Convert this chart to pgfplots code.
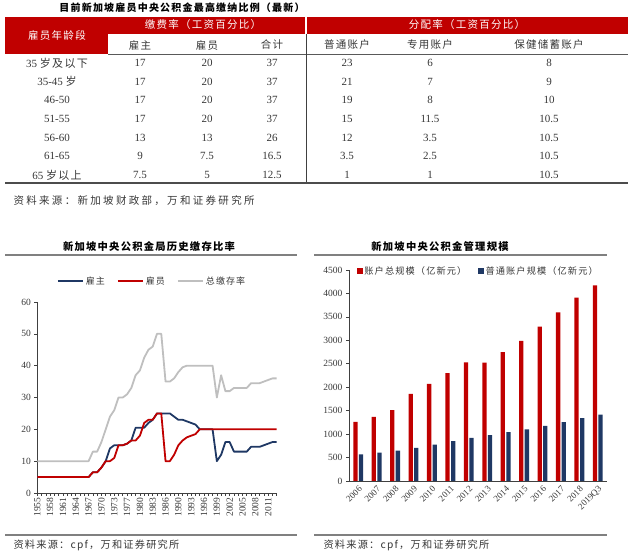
\documentclass[border=0pt]{standalone}
\usepackage{fontspec}
\setmainfont{Liberation Serif}
\newfontfamily\cjk{Noto Sans CJK SC}[LetterSpace=12]
\usepackage{pgfplots}
\usepackage{pgfplotstable}
\pgfplotsset{compat=1.18}
\definecolor{cred}{RGB}{192,0,0}
\definecolor{cblue}{RGB}{31,56,100}
\definecolor{cgray}{RGB}{191,191,191}
\definecolor{txt}{RGB}{55,55,55}
\definecolor{sepc}{RGB}{128,128,128}
\newcommand\zh[1]{{\cjk #1}}

\pgfplotstableread{
i emp ee tot
0 5 5 10
1 5 5 10
2 5 5 10
3 5 5 10
4 5 5 10
5 5 5 10
6 5 5 10
7 5 5 10
8 5 5 10
9 5 5 10
10 5 5 10
11 5 5 10
12 5 5 10
13 6.5 6.5 13
14 6.5 6.5 13
15 8 8 16
16 10 10 20
17 14 10 24
18 15 11 26
19 15 15 30
20 15 15 30
21 15.5 15.5 31
22 16.5 16.5 33
23 20.5 16.5 37
24 20.5 18 38.5
25 20.5 22 42.5
26 22 23 45
27 23 23 46
28 25 25 50
29 25 25 50
30 25 10 35
31 25 10 35
32 24 12 36
33 23 15 38
34 23 16.5 39.5
35 22.5 17.5 40
36 22 18 40
37 21.5 18.5 40
38 20 20 40
39 20 20 40
40 20 20 40
41 20 20 40
42 10 20 30
43 12 20 37
44 16 20 32
45 16 20 32
46 13 20 33
47 13 20 33
48 13 20 33
49 13 20 33
50 14.5 20 34.5
51 14.5 20 34.5
52 14.5 20 34.5
53 15 20 35
54 15.5 20 35.5
55 16 20 36
56 16 20 36
}\ratedata

\pgfplotstableread{
k total ordinary
0 1260 570
1 1367 605
2 1510 650
3 1858 705
4 2072 775
5 2300 850
6 2528 920
7 2525 980
8 2748 1040
9 2990 1100
10 3290 1175
11 3596 1255
12 3909 1340
13 4172 1415
}\sizedata

\begin{document}
\begin{tikzpicture}
\path[use as bounding box] (0pt,0pt) rectangle (640pt,559pt);
\begin{scope}[x=1pt,y=1pt]
% ---------------- table ----------------
\node[font=\cjk\bfseries\fontsize{10}{12}\selectfont, text=black] at (182,551) {目前新加坡雇员中央公积金最高缴纳比例（最新）};
\fill[cred] (5,542.3) rectangle (628,525);
\fill[cred] (5,525) rectangle (108,505);
\draw[white, line width=1.5pt] (306,542.3) -- (306,525);
\draw[black!65, line width=0.8pt] (108,505) -- (628,505);
\draw[black!75, line width=0.9pt] (306,525) -- (306,376);
\draw[black!70, line width=1.1pt] (5,376) -- (628,376);

\begin{scope}[every node/.style={font=\cjk\fontsize{10.5}{12}\selectfont}]
\node[text=white] at (57,524) {雇员年龄段};
\node[text=white] at (203,534) {缴费率（工资百分比）};
\node[text=white] at (467,534) {分配率（工资百分比）};
\node[text=txt] at (140,514) {雇主};
\node[text=txt] at (207,514) {雇员};
\node[text=txt] at (272,514) {合计};
\node[text=txt] at (347,514) {普通账户};
\node[text=txt] at (430,514) {专用账户};
\node[text=txt] at (549,514) {保健储蓄账户};
\end{scope}

\begin{scope}[every node/.style={font=\fontsize{11}{12}\selectfont, text=txt}]
\node at (57,496) {35 \zh{岁及以下}};
\node at (57,477.3) {35-45 \zh{岁}};
\node at (57,458.7) {46-50};
\node at (57,440) {51-55};
\node at (57,421.3) {56-60};
\node at (57,402.7) {61-65};
\node at (57,384) {65 \zh{岁以上}};
\foreach \y/\a/\b/\c/\d/\e/\f in {
 496/17/20/37/23/6/8,
 477.3/17/20/37/21/7/9,
 458.7/17/20/37/19/8/10,
 440/17/20/37/15/11.5/10.5,
 421.3/13/13/26/12/3.5/10.5,
 402.7/9/7.5/16.5/3.5/2.5/10.5,
 384/7.5/5/12.5/1/1/10.5}{
 \node at (140,\y) {\a};
 \node at (207,\y) {\b};
 \node at (272,\y) {\c};
 \node at (347,\y) {\d};
 \node at (430,\y) {\e};
 \node at (549,\y) {\f};
}
\end{scope}
\node[anchor=west, text=txt, font=\cjk\addfontfeature{LetterSpace=22}\fontsize{10.5}{12}\selectfont] at (10,358) {资料来源：新加坡财政部，万和证券研究所};

% ---------------- frames of the two charts ----------------
\node[font=\cjk\bfseries\fontsize{10.3}{12}\selectfont] at (149,312.3) {新加坡中央公积金局历史缴存比率};
\node[font=\cjk\bfseries\fontsize{10.3}{12}\selectfont] at (440,312.3) {新加坡中央公积金管理规模};
\draw[sepc, line width=1.5pt] (5,304) -- (297,304);
\draw[sepc, line width=1.5pt] (314,304) -- (607,304);
\draw[sepc, line width=1.5pt] (5,24) -- (297,24);
\draw[sepc, line width=1.5pt] (314,24) -- (607,24);
\node[anchor=west, text=txt, font=\cjk\fontsize{10.2}{12}\selectfont] at (10,14) {资料来源：cpf，万和证券研究所};
\node[anchor=west, text=txt, font=\cjk\fontsize{10.2}{12}\selectfont] at (320,14) {资料来源：cpf，万和证券研究所};
\end{scope}

% ---------------- left chart ----------------
\begin{axis}[
  at={(37.3pt,66pt)}, anchor=south west, scale only axis,
  width=239.4pt, height=191pt,
  xmin=0, xmax=56, ymin=0, ymax=60,
  axis x line*=bottom, axis y line*=left,
  axis line style={draw=black!75, line width=0.8pt},
  xtick={0,3,...,54},
  xticklabels={1955,1958,1961,1964,1967,1970,1973,1977,1980,1983,1986,1990,1993,1996,1999,2002,2005,2008,2011},
  minor xtick={0,1,...,56},
  ytick={0,10,...,60},
  tick align=outside, major tick length=3pt, minor tick length=3pt,
  every tick/.style={draw=black!75, line width=0.6pt},
  /pgf/number format/assume math mode=true,
  x tick label style={rotate=90, anchor=east, font=\fontsize{9.5}{10}\selectfont, text=txt, inner sep=1.5pt},
  y tick label style={font=\fontsize{9.5}{10}\selectfont, text=txt},
  legend columns=3,
  legend style={at={(0.479,1.11)}, anchor=center, draw=none, fill=none,
    font=\cjk\fontsize{9}{10}\selectfont, text=txt,
    /tikz/every even column/.append style={column sep=10pt}},
  legend image code/.code={\draw[#1, line width=2pt] (0pt,0pt) -- (25pt,0pt);},
]
\addplot[cblue, line width=1.8pt, line join=round] table[x=i, y=emp]{\ratedata};
\addlegendentry{雇主}
\addplot[cred, line width=1.8pt, line join=round] table[x=i, y=ee]{\ratedata};
\addlegendentry{雇员}
\addplot[cgray, line width=1.8pt, line join=round] table[x=i, y=tot]{\ratedata};
\addlegendentry{总缴存率}
\end{axis}

% ---------------- right chart ----------------
\begin{axis}[
  at={(349pt,78pt)}, anchor=south west, scale only axis,
  width=258pt, height=211pt,
  xmin=-0.5, xmax=13.5, ymin=0, ymax=4500,
  axis x line*=bottom, axis y line*=left,
  axis line style={draw=black!75, line width=0.8pt},
  xtick={0,...,13},
  xticklabels={2006,2007,2008,2009,2010,2011,2012,2013,2014,2015,2016,2017,2018,2019Q3},
  minor xtick={-0.5,0.5,...,13.5},
  ytick={0,500,...,4500},
  tick align=outside, major tick length=3pt, minor tick length=3pt,
  xtick style={draw=none},
  minor tick style={draw=black!75, line width=0.6pt},
  ytick style={draw=black!75, line width=0.6pt},
  scaled y ticks=false,
  /pgf/number format/1000 sep={},
  /pgf/number format/assume math mode=true,
  x tick label style={rotate=45, anchor=north east, font=\fontsize{9}{10}\selectfont, text=txt, inner sep=0.8pt},
  y tick label style={font=\fontsize{9.5}{10}\selectfont, text=txt},
  legend columns=2,
  legend style={at={(0.502,0.995)}, anchor=center, draw=none, fill=none,
    font=\cjk\fontsize{9.2}{10}\selectfont, text=txt,
    /tikz/every even column/.append style={column sep=10pt}},
]
\addplot[ybar, bar width=4.3pt, bar shift=-2.8pt, fill=cred, draw=none, forget plot] table[x=k, y=total]{\sizedata};
\addplot[ybar, bar width=4.3pt, bar shift=2.8pt, fill=cblue, draw=none, forget plot] table[x=k, y=ordinary]{\sizedata};
\addlegendimage{legend image code/.code={\fill[cred] (0pt,-2.4pt) rectangle (4.8pt,2.4pt);}}
\addlegendentry{账户总规模（亿新元）}
\addlegendimage{legend image code/.code={\fill[cblue] (0pt,-2.4pt) rectangle (4.8pt,2.4pt);}}
\addlegendentry{普通账户规模（亿新元）}
\end{axis}
\end{tikzpicture}
\end{document}
